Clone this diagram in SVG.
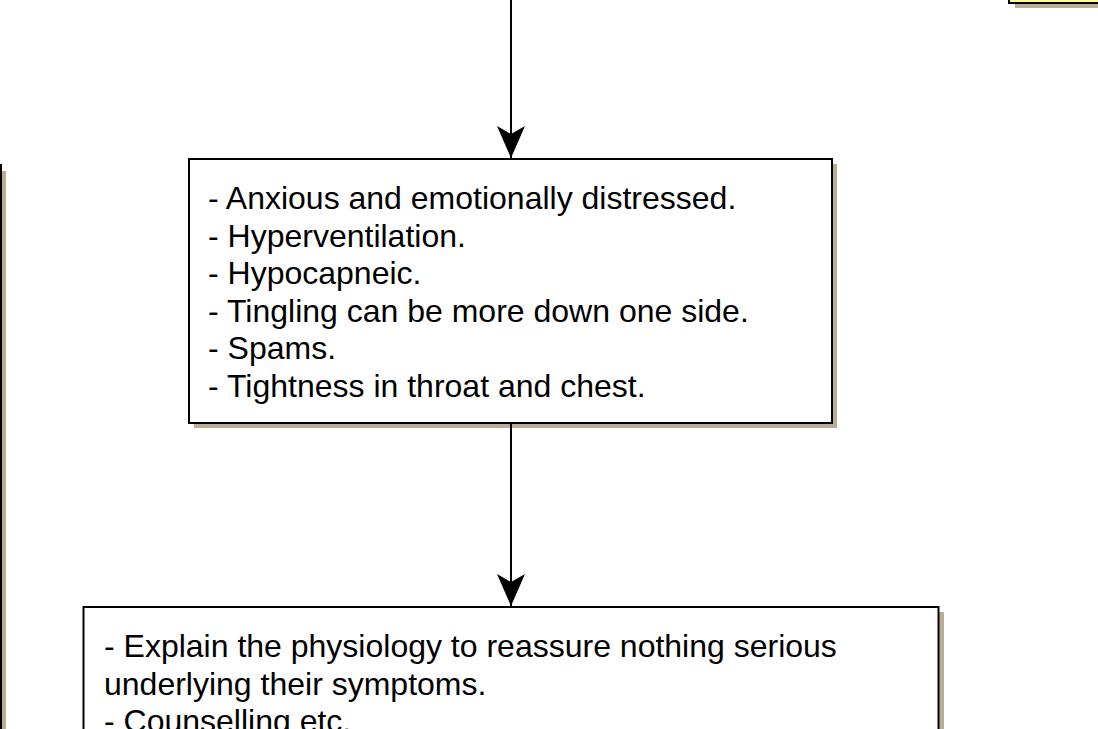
<svg xmlns="http://www.w3.org/2000/svg" width="1098" height="729" viewBox="0 0 1098 729">
  <style>
    .shadow { fill: #b9ad96; stroke: none; }
    .box { fill: #ffffff; stroke: #000000; stroke-width: 2; }
    .note { fill: #ffff88; stroke: #000000; stroke-width: 2; }
    .label { font-family: "Liberation Sans", Arial, sans-serif; font-size: 32px; fill: #000000; }
    .edge { stroke: #000000; stroke-width: 2; fill: none; }
  </style>
  <defs>
    <marker id="arrow" markerWidth="34" markerHeight="30" refX="32" refY="14" orient="auto" markerUnits="userSpaceOnUse" viewBox="0 0 34 30">
      <path d="M 0 0 L 8 14 L 0 28 L 32 14 Z" fill="#000000"/>
    </marker>
  </defs>
  <rect width="1098" height="729" fill="#ffffff"/>

  <!-- partially visible note, top right -->
  <g id="node-note">
    <rect class="shadow" x="1015" y="-40" width="120" height="48"/>
    <rect class="note" x="1009" y="-45" width="120" height="48"/>
  </g>

  <!-- partially visible box, left edge -->
  <g id="node-left">
    <rect class="shadow" x="-494" y="171" width="500" height="620"/>
    <rect class="box" x="-500" y="165" width="501" height="620"/>
  </g>

  <!-- symptoms box -->
  <g id="node-symptoms">
    <rect class="shadow" x="194" y="164" width="643" height="264"/>
    <rect class="box" x="189" y="159" width="643" height="264"/>
    <text class="label" x="208" y="209">- Anxious and emotionally distressed.</text>
    <text class="label" x="208" y="246.5">- Hyperventilation.</text>
    <text class="label" x="208" y="284">- Hypocapneic.</text>
    <text class="label" x="208" y="321.5">- Tingling can be more down one side.</text>
    <text class="label" x="208" y="359">- Spams.</text>
    <text class="label" x="208" y="396.5">- Tightness in throat and chest.</text>
  </g>

  <!-- management box -->
  <g id="node-management">
    <rect class="shadow" x="89" y="612" width="855" height="200"/>
    <rect class="box" x="83.5" y="607" width="855" height="200"/>
    <text class="label" x="104" y="657">- Explain the physiology to reassure nothing serious</text>
    <text class="label" x="104" y="694.5">underlying their symptoms.</text>
    <text class="label" x="104" y="732">- Counselling etc.</text>
  </g>

  <!-- connectors -->
  <g id="connectors">
    <line class="edge" x1="511" y1="0" x2="511" y2="158" marker-end="url(#arrow)"/>
    <line class="edge" x1="511" y1="424" x2="511" y2="606" marker-end="url(#arrow)"/>
  </g>
</svg>
